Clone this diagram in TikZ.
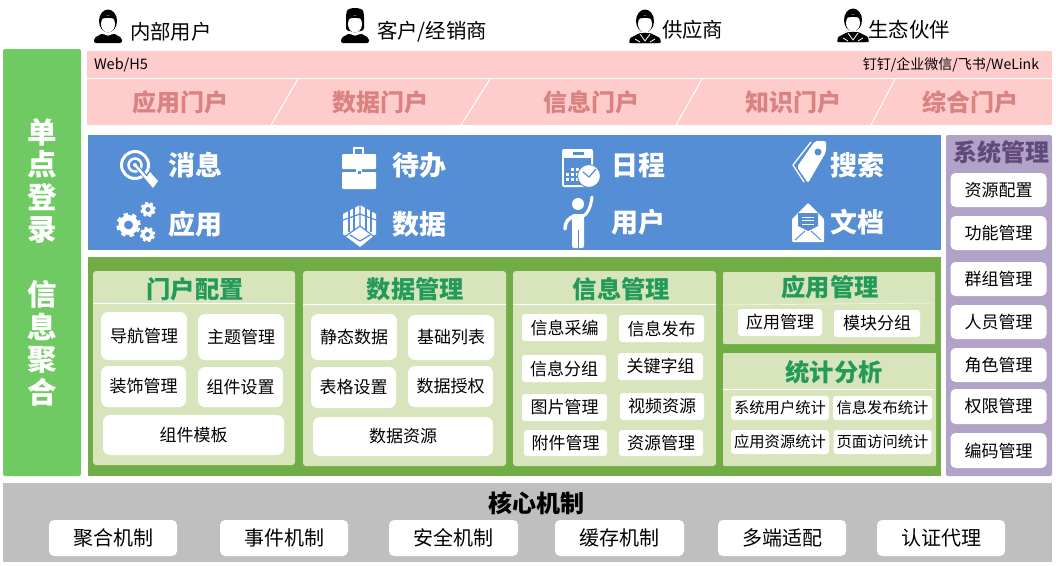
\documentclass[tikz,border=0pt]{standalone}
\usepackage{fontspec}
\setmainfont{Noto Sans CJK SC}
\usetikzlibrary{positioning}
\definecolor{leftgreen}{HTML}{70CA64}
\definecolor{portalpink}{HTML}{FFCCCC}
\definecolor{portaltext}{HTML}{D98282}
\definecolor{toolblue}{HTML}{558ED5}
\definecolor{confgreen}{HTML}{70AD47}
\definecolor{confpale}{HTML}{D8E4BC}
\definecolor{conftext}{HTML}{229A58}
\definecolor{syspurple}{HTML}{B3A2C7}
\definecolor{systext}{HTML}{604A7B}
\definecolor{coregrey}{HTML}{BFBFBF}
\newcommand{\fs}[1]{\fontsize{#1}{#1}\selectfont}
\tikzset{panel/.style={inner sep=0pt, outer sep=0pt}}
\tikzstyle{inner}=[panel, fill=confpale, rounded corners=3pt]
\tikzstyle{tile}=[panel, fill=white, text=black, rounded corners=7pt, font=\fs{17}]
\tikzstyle{smalltile}=[tile, rounded corners=3pt]
\tikzstyle{sidetile}=[tile, rounded corners=5pt, minimum width=96pt, minimum height=34pt]
\tikzstyle{coretile}=[tile, rounded corners=5pt, minimum width=128pt, minimum height=36pt, font=\fs{20}]
\tikzstyle{title}=[panel, text=conftext, font=\fs{24.3}\bfseries]
\tikzstyle{portal}=[panel, text=portaltext, font=\fs{24}\bfseries]
\tikzstyle{tool}=[panel, text=white, font=\fs{27}\bfseries]
\tikzstyle{who}=[panel, anchor=west, text=black, font=\fs{20.4}]
% small black figure, head centre at #1,#2
\newcommand{\headfig}[2]{
\fill[black] (#1,#2) ellipse (9pt and 11.5pt);
\fill[white] (#1,#2+3) ellipse (7pt and 8.5pt);
\fill[black] (#1-8,#2-1) .. controls (#1-4,#2-4) and (#1+4,#2-4) .. (#1+8,#2-1) -- (#1+8,#2-5) -- (#1-8,#2-5) -- cycle;
\fill[black, rounded corners=2pt] (#1-14,#2+22) -- (#1-14,#2+17) -- (#1-5,#2+12) .. controls (#1-2,#2+15) and (#1+2,#2+15) .. (#1+5,#2+12) -- (#1+14,#2+17) -- (#1+14,#2+22) -- cycle;
}
\newcommand{\suitlines}[2]{
\fill[black, rounded corners=1pt] (#1-16,#2+22) -- (#1-15,#2+17) -- (#1-5,#2+12) -- (#1+5,#2+12) -- (#1+15,#2+17) -- (#1+16,#2+22) -- cycle;
\draw[white, line width=.8pt] (#1-5,#2+13) -- (#1,#2+20) -- (#1+5,#2+13);
\draw[white, line width=.8pt] (#1-10,#2+18) -- (#1-5,#2+21);
\draw[white, line width=.8pt] (#1+10,#2+18) -- (#1+5,#2+21);
}
\newcommand{\gearfig}[3]{
\draw[white, line width=#3*0.46pt] (#1,#2) circle (#3*0.6pt);
\draw[white, line width=#3*0.28pt, dash pattern=on #3*0.36pt off #3*0.34pt] (#1,#2) circle (#3*0.88pt);
}
\begin{document}
\begin{tikzpicture}[x=1pt, y=-1pt, >=stealth]
\useasboundingbox (0,0) rectangle (1056,565);

\node[panel, fill=leftgreen, rounded corners=2pt, minimum width=78pt, minimum height=427pt] (sso) at (42,262.5) {};
\node[panel, align=center, text=white, font=\fontsize{29.5}{32.5}\selectfont\bfseries] (ssotop) at (42,181) {单\\点\\登\\录};
\node[panel, align=center, text=white, font=\fontsize{29.5}{32.5}\selectfont\bfseries] (ssobot) at (42,343) {信\\息\\聚\\合};

% users along the top
\headfig{108}{21}
\node[who] (u1) at (130,32) {内部用户};
\fill[black, rounded corners=3pt] (346,31) -- (346,14) .. controls (348,7) and (362,7) .. (364,14) -- (364,31) -- cycle;
\headfig{355}{21}
\node[who] (u2) at (377,32) {客户/经销商};
\headfig{645}{21}
\suitlines{645}{21}
\node[who] (u3) at (662,30) {供应商};
\headfig{853}{20}
\suitlines{853}{20}
\node[who] (u4) at (868.5,30) {生态伙伴};

% portals
\node[panel, fill=portalpink, minimum width=965pt, minimum height=74pt] (pink) at (569.5,88) {};
\draw[white, line width=1pt] (87,78.5) -- (1052,78.5);
\draw[white, line width=1pt] (271,125) -- (298,79);
\draw[white, line width=1pt] (461,125) -- (490,79);
\draw[white, line width=1pt] (676,125) -- (702,79);
\draw[white, line width=1pt] (871,125) -- (895,79);
\node[panel, anchor=west, font=\fs{14.5}] (web) at (94,65) {Web/H5};
\node[panel, anchor=east, font=\fs{14}] (im) at (1039,65) {钉钉/企业微信/飞书/WeLink};
\node[portal] (p1) at (180,102) {应用门户};
\node[portal] (p2) at (380,102) {数据门户};
\node[portal] (p3) at (591,102) {信息门户};
\node[portal] (p4) at (793,102) {知识门户};
\node[portal] (p5) at (970,102) {综合门户};

% blue band
\node[panel, fill=toolblue, minimum width=853pt, minimum height=115pt] (blue) at (514.5,192.5) {};
\node[tool] (t1) at (195,165) {消息};
\node[tool] (t2) at (419,165) {待办};
\node[tool] (t3) at (638.5,165) {日程};
\node[tool] (t4) at (857,165) {搜索};
\node[tool] (t5) at (195,224) {应用};
\node[tool] (t6) at (419,224) {数据};
\node[tool] (t7) at (638.5,222) {用户};
\node[tool] (t8) at (857,222) {文档};

% target
\draw[white, line width=3pt] (135,165) circle (13.5pt);
\draw[white, line width=2.5pt] (135,165) circle (6.5pt);
\fill[white] (135,165) circle (2pt);
\draw[toolblue, line width=4.5pt] (136,166) -- (152,184);
\draw[white, line width=2.5pt] (136,166) -- (153,186);
\fill[white] (146,178) -- (150,172) -- (158,181) -- (153,188) -- cycle;
% gears
\gearfig{128.5}{225}{12}
\gearfig{148}{209.5}{7.5}
\gearfig{147.5}{234.5}{7.5}
% briefcase
\draw[white, line width=1.5pt] (354,155) -- (354,148) -- (363,148) -- (363,155);
\fill[white, rounded corners=1pt] (342,154) rectangle (376,169);
\fill[white, rounded corners=1pt] (342,172) rectangle (376,189);
\fill[white] (356,169) rectangle (362,175);
\fill[toolblue] (357.5,171) rectangle (360.5,173.5);
% hex block
\fill[white] (360,205) -- (376,214) -- (376,234) -- (360,247) -- (343,234) -- (343,214) -- cycle;
\draw[toolblue, line width=1.2pt] (360,205) -- (360,226) -- (343,238);
\draw[toolblue, line width=1.2pt] (360,226) -- (376,238);
\draw[toolblue, line width=1.2pt] (349,210) -- (349,232);
\draw[toolblue, line width=1.2pt] (354,207) -- (354,230);
\draw[toolblue, line width=1.2pt] (366,207) -- (366,230);
\draw[toolblue, line width=1.2pt] (371,210) -- (371,232);
\draw[toolblue, line width=1.2pt] (343,220) -- (360,214) -- (376,220);
\draw[toolblue, line width=1.2pt] (350,235) -- (360,241) -- (370,235);
% calendar
\fill[white, rounded corners=2pt] (562,149) rectangle (593,187);
\fill[toolblue] (564,158) rectangle (591,185);
\fill[toolblue] (573,152) rectangle (584,154.5);
\fill[white] (571,168) rectangle (574,171);
\fill[white] (576,168) rectangle (579,171);
\fill[white] (566,173) rectangle (569,176);
\fill[white] (571,173) rectangle (574,176);
\fill[white] (576,173) rectangle (579,176);
\fill[white] (566,178) rectangle (569,181);
\fill[white] (571,178) rectangle (574,181);
\fill[white] (576,178) rectangle (579,181);
\filldraw[fill=white, draw=toolblue, line width=1pt] (589,176) circle (11.5pt);
\draw[toolblue, line width=1.2pt] (583,172) -- (589,177) -- (596,169);
% tag
\fill[white, rounded corners=2pt] (815,141) -- (826,141) -- (826,152) -- (808,183) -- (797,167) -- cycle;
\fill[toolblue] (818,152) circle (3.5pt);
\draw[white, line width=1.3pt] (811,142) -- (793,165) -- (804,182);
% waving figure
\fill[white] (578,204) circle (6pt);
\fill[white, rounded corners=2pt] (572,214) rectangle (584,248);
\draw[toolblue, line width=1pt] (578,230) -- (578,248);
\draw[white, line width=3.5pt, line cap=round] (575,216) .. controls (568,218) and (565,222) .. (565,229);
\draw[white, line width=3pt, line cap=round] (582,217) .. controls (588,214) and (591,206) .. (592,197);
% open mail
\fill[white, rounded corners=1pt] (808,203) -- (824,219) -- (824,242) -- (792,242) -- (792,219) -- cycle;
\fill[toolblue] (798,213) -- (818,213) -- (818,226) -- (808,231) -- (798,226) -- cycle;
\draw[white, line width=1pt] (802,217) -- (814,217);
\draw[white, line width=1pt] (802,220.5) -- (814,220.5);
\draw[white, line width=1pt] (802,224) -- (814,224);
\draw[toolblue, line width=1pt] (795,240) -- (805,231);
\draw[toolblue, line width=1pt] (821,240) -- (811,231);

% green block
\node[panel, fill=confgreen, minimum width=853pt, minimum height=219pt] (green) at (514.5,366.5) {};

\node[inner, minimum width=202pt, minimum height=194pt] (portalcfg) at (194,368) {};
\draw[white] (93,303) -- (295,303);
\node[title] (portalcfgt) at (195,289) {门户配置};
\node[tile, minimum width=86pt, minimum height=48pt] (nav) at (144,336) {导航管理};
\node[tile, minimum width=86pt, minimum height=46pt] (theme) at (241,337) {主题管理};
\node[tile, minimum width=85pt, minimum height=41pt] (deco) at (143.5,386.5) {装饰管理};
\node[tile, minimum width=85pt, minimum height=40pt] (comp) at (240.5,387) {组件设置};
\node[tile, minimum width=181pt, minimum height=40pt] (tmpl) at (193.5,435) {组件模板};

\node[inner, minimum width=203pt, minimum height=195pt] (datamgr) at (404.5,368.5) {};
\draw[white] (303,304) -- (506,304);
\node[title] (datamgrt) at (415.5,289) {数据管理};
\node[tile, minimum width=86pt, minimum height=46pt] (static) at (354,337) {静态数据};
\node[tile, minimum width=86pt, minimum height=45pt] (base) at (451,337.5) {基础列表};
\node[tile, minimum width=85pt, minimum height=41pt] (grid) at (353.5,387.5) {表格设置};
\node[tile, minimum width=85pt, minimum height=41pt] (auth) at (450.5,386.5) {数据授权};
\node[tile, minimum width=180pt, minimum height=39pt] (res) at (403,436.5) {数据资源};

\node[inner, minimum width=203pt, minimum height=195pt] (infomgr) at (614.5,368.5) {};
\draw[white] (513,304) -- (716,304);
\node[title] (infomgrt) at (621.5,289) {信息管理};
\node[smalltile, minimum width=85pt, minimum height=27pt] (collect) at (564.5,327.5) {信息采编};
\node[smalltile, minimum width=85pt, minimum height=27pt] (publish) at (661.5,328.5) {信息发布};
\node[smalltile, minimum width=84pt, minimum height=27pt] (group) at (564,368.5) {信息分组};
\node[smalltile, minimum width=85pt, minimum height=27pt] (keyw) at (660.5,366.5) {关键字组};
\node[smalltile, minimum width=85pt, minimum height=27pt] (image) at (564.5,407.5) {图片管理};
\node[smalltile, minimum width=84pt, minimum height=27pt] (video) at (662,406.5) {视频资源};
\node[smalltile, minimum width=83pt, minimum height=26pt] (attach) at (565.5,443) {附件管理};
\node[smalltile, minimum width=84pt, minimum height=26pt] (media) at (661,443) {资源管理};

\node[inner, minimum width=212pt, minimum height=72pt, rounded corners=1pt] (appmgr) at (829,308) {};
\draw[white] (722,305) -- (934,303);
\node[title] (appmgrt) at (830,287) {应用管理};
\node[smalltile, minimum width=84pt, minimum height=27pt] (apps) at (780,322.5) {应用管理};
\node[smalltile, minimum width=86pt, minimum height=27pt] (mods) at (877,323.5) {模块分组};

\node[inner, minimum width=213pt, minimum height=113pt, rounded corners=1pt] (stats) at (829.5,409.5) {};
\draw[white] (723,389) -- (935,389);
\node[title] (statst) at (834,372) {统计分析};
\node[smalltile, minimum width=98pt, minimum height=24pt, font=\fs{15.3}] (s1) at (780,408) {系统用户统计};
\node[smalltile, minimum width=99pt, minimum height=24pt, font=\fs{15.3}] (s2) at (882.5,408) {信息发布统计};
\node[smalltile, minimum width=98pt, minimum height=24pt, font=\fs{15.3}] (s3) at (780,442) {应用资源统计};
\node[smalltile, minimum width=98pt, minimum height=24pt, font=\fs{15.3}] (s4) at (882.5,442) {页面访问统计};

% system column
\node[panel, fill=syspurple, rounded corners=2pt, minimum width=106pt, minimum height=341pt] (sys) at (999,305.5) {};
\node[panel, text=systext, font=\fs{24}\bfseries] (syst) at (1001,152) {系统管理};
\node[sidetile] (r1) at (998.5,190) {资源配置};
\node[sidetile] (r2) at (998.5,233) {功能管理};
\node[sidetile] (r3) at (998.5,279) {群组管理};
\node[sidetile] (r4) at (998.5,322) {人员管理};
\node[sidetile] (r5) at (998.5,365) {角色管理};
\node[sidetile, minimum height=35pt] (r6) at (998.5,406.5) {权限管理};
\node[sidetile, minimum height=35pt] (r7) at (998.5,450.5) {编码管理};

% core band
\node[panel, fill=coregrey, minimum width=1049pt, minimum height=79pt] (core) at (527.5,522.5) {};
\node[panel, text=black, font=\fs{24}\bfseries] (coret) at (536,503) {核心机制};
\node[coretile] (c1) at (113,538) {聚合机制};
\node[coretile] (c2) at (284,538) {事件机制};
\node[coretile, minimum width=129pt] (c3) at (453.5,538) {安全机制};
\node[coretile, minimum width=129pt] (c4) at (619.5,538) {缓存机制};
\node[coretile] (c5) at (782,538) {多端适配};
\node[coretile] (c6) at (941,538) {认证代理};
\end{tikzpicture}
\end{document}
